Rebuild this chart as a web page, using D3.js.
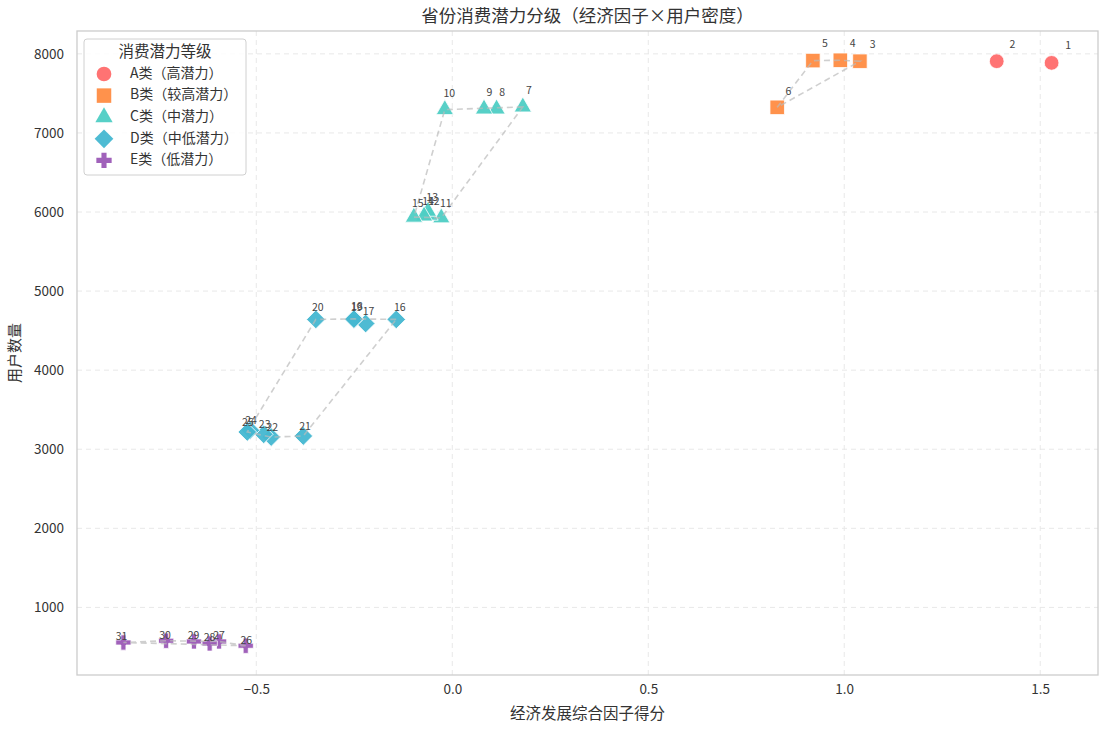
<!DOCTYPE html>
<html lang="zh">
<head>
<meta charset="utf-8">
<script src="https://d3js.org/d3.v7.min.js"></script>
<style>
  body { margin: 0; background: #fff; }
  text { font-family: "Noto Sans CJK SC", "DejaVu Sans", sans-serif; }
</style>
</head>
<body>
<svg id="chart" width="1107" height="732"></svg>
<script>
// province ids, factor score, user count, grade
const ids = [1, 2, 3, 4, 5, 6, 7, 8, 9, 10, 11, 12, 13, 14, 15, 16, 17, 18, 19, 20, 21, 22, 23, 24, 25, 26, 27, 28, 29, 30, 31];
const econ = [1.529, 1.389, 1.040, 0.990, 0.920, 0.829,
              0.180, 0.113, 0.081, -0.019, -0.028, -0.058, -0.062, -0.072, -0.098,
              -0.143, -0.221, -0.250, -0.251, -0.348, -0.380, -0.462, -0.481, -0.515, -0.523,
              -0.527, -0.595, -0.619, -0.659, -0.730, -0.839];
const users = [7886, 7907, 7907, 7919, 7915, 7324,
               7329, 7303, 7303, 7295, 5926, 5960, 6010, 5950, 5935,
               4642, 4590, 4648, 4645, 4642, 3167, 3154, 3189, 3240, 3218,
               515, 569, 544, 569, 578, 556];
const grade = ["A", "A", "B", "B", "B", "B",
               "C", "C", "C", "C", "C", "C", "C", "C", "C",
               "D", "D", "D", "D", "D", "D", "D", "D", "D", "D",
               "E", "E", "E", "E", "E", "E"];

const grades = ["A", "B", "C", "D", "E"];
const gradeNames = ["A类（高潜力）", "B类（较高潜力）", "C类（中潜力）", "D类（中低潜力）", "E类（低潜力）"];
const gradeColors = ["#FF6B6B", "#FF8C42", "#4ECDC4", "#45B7D1", "#9B59B6"];
const xTicks = [-0.5, 0, 0.5, 1.0, 1.5];
const yTicks = [1000, 2000, 3000, 4000, 5000, 6000, 7000, 8000];

const svg = d3.select("#chart");
const pLeft = 77, pRight = 1098, pTop = 31, pBottom = 675;

const data = ids.map((id, i) => ({id: id, x: econ[i], y: users[i], g: grade[i]}));

// 5% padding like matplotlib
const xe = d3.extent(econ), ye = d3.extent(users);
const xp = (xe[1] - xe[0]) * 0.05, yp = (ye[1] - ye[0]) * 0.05;
const xScale = d3.scaleLinear().domain([xe[0] - xp, xe[1] + xp]).range([pLeft, pRight]);
const yScale = d3.scaleLinear().domain([ye[0] - yp, ye[1] + yp]).range([pBottom, pTop]);
const color = d3.scaleOrdinal().domain(grades).range(gradeColors);

// symbols
const symbolFor = {
  A: d3.symbol().type(d3.symbolCircle).size(170),
  B: d3.symbol().type(d3.symbolSquare).size(210),
  C: d3.symbol().type(d3.symbolTriangle).size(130),
  D: d3.symbol().type(d3.symbolSquare).size(175),
  E: d3.symbol().type(d3.symbolCross).size(130)
};
const rot = g => g === "D" ? " rotate(45)" : "";

// grid
const grid = svg.append("g");
grid.selectAll(".gx").data(xTicks).enter().append("line")
  .attr("x1", d => xScale(d)).attr("x2", d => xScale(d))
  .attr("y1", pTop).attr("y2", pBottom)
  .attr("stroke", "#e8e8e8").attr("stroke-dasharray", "5,4");
grid.selectAll(".gy").data(yTicks).enter().append("line")
  .attr("x1", pLeft).attr("x2", pRight)
  .attr("y1", d => yScale(d)).attr("y2", d => yScale(d))
  .attr("stroke", "#e8e8e8").attr("stroke-dasharray", "5,4");

// axes
const xAxis = d3.axisBottom(xScale).tickValues(xTicks).tickSize(0).tickPadding(9)
  .tickFormat(d => d3.format(".1f")(d).replace("-", "−"));
const yAxis = d3.axisLeft(yScale).tickValues(yTicks).tickSize(0).tickPadding(13)
  .tickFormat(d3.format("d"));
const gx = svg.append("g").attr("transform", `translate(0,${pBottom})`).call(xAxis);
const gy = svg.append("g").attr("transform", `translate(${pLeft},0)`).call(yAxis);
[gx, gy].forEach(g => {
  g.select(".domain").remove();
  g.selectAll("text").attr("font-size", 13.5).attr("fill", "#333")
    .style("font-family", "'Noto Sans CJK SC', sans-serif");
});

// frame
svg.append("rect").attr("x", pLeft).attr("y", pTop)
  .attr("width", pRight - pLeft).attr("height", pBottom - pTop)
  .attr("fill", "none").attr("stroke", "#cccccc").attr("stroke-width", 1.3);

// points
svg.append("g").selectAll("path").data(data).enter().append("path")
  .attr("d", d => symbolFor[d.g]())
  .attr("transform", d => `translate(${xScale(d.x)},${yScale(d.y)})` + rot(d.g))
  .attr("fill", d => color(d.g))
  .attr("fill-opacity", 0.95)
  .attr("stroke", "#fff").attr("stroke-width", 0.8);

// dashed convex hull of each grade
const hulls = svg.append("g");
grades.forEach(g => {
  const pts = data.filter(d => d.g === g).map(d => [xScale(d.x), yScale(d.y)]);
  if (pts.length < 3) return;
  const hull = d3.polygonHull(pts);
  hulls.append("path")
    .attr("d", "M" + hull.map(p => p.join(",")).join("L") + "Z")
    .attr("fill", "none").attr("stroke", "#bbbbbb").attr("stroke-opacity", 0.7)
    .attr("stroke-width", 1.6).attr("stroke-dasharray", "6,4");
});

// point labels
svg.append("g").selectAll("text").data(data).enter().append("text")
  .attr("x", d => xScale(d.x * 1.02 + 0.012))
  .attr("y", d => yScale(d.y * 1.02 + 50))
  .attr("text-anchor", "middle").attr("dominant-baseline", "middle")
  .attr("font-size", 10.5).attr("fill", "#444")
  .text(d => d.id);

// legend
const lg = svg.append("g");
lg.append("rect").attr("x", 84).attr("y", 39).attr("width", 162).attr("height", 136)
  .attr("rx", 3).attr("fill", "#fff").attr("fill-opacity", 0.85)
  .attr("stroke", "#d0d0d0");
lg.append("text").attr("x", 165).attr("y", 53).attr("text-anchor", "middle")
  .attr("dominant-baseline", "middle").attr("font-size", 15.5).attr("fill", "#333")
  .text("消费潜力等级");
grades.forEach((g, i) => {
  const yy = 74 + i * 21.6;
  lg.append("path").attr("d", symbolFor[g]())
    .attr("transform", `translate(104,${yy})` + rot(g))
    .attr("fill", gradeColors[i]).attr("fill-opacity", 0.95);
  lg.append("text").attr("x", 130).attr("y", yy).attr("dominant-baseline", "middle")
    .attr("font-size", 14).attr("fill", "#333").text(gradeNames[i]);
});

// titles
svg.append("text").attr("x", (pLeft + pRight) / 2).attr("y", 17)
  .attr("text-anchor", "middle").attr("dominant-baseline", "middle")
  .attr("font-size", 17.5).attr("fill", "#333")
  .text("省份消费潜力分级（经济因子×用户密度）");
svg.append("text").attr("x", (pLeft + pRight) / 2).attr("y", 715)
  .attr("text-anchor", "middle").attr("dominant-baseline", "middle")
  .attr("font-size", 15.5).attr("fill", "#333").text("经济发展综合因子得分");
svg.append("text").attr("transform", `translate(16,${(pTop + pBottom) / 2}) rotate(-90)`)
  .attr("text-anchor", "middle").attr("dominant-baseline", "middle")
  .attr("font-size", 15).attr("fill", "#333").text("用户数量");
</script>
</body>
</html>
